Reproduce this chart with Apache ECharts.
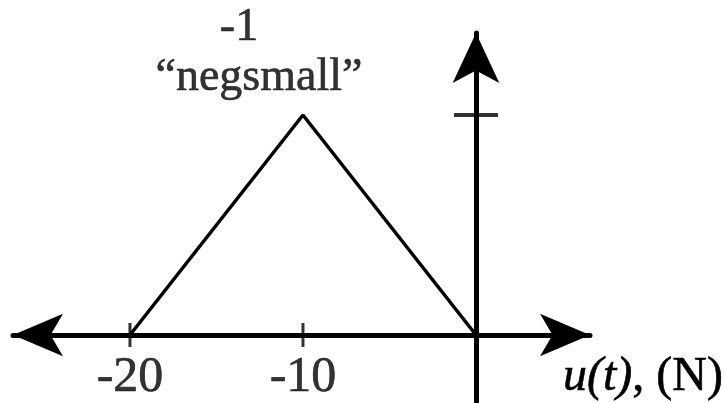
<!DOCTYPE html>
<html>
<head>
<meta charset="utf-8">
<script src="https://cdn.jsdelivr.net/npm/echarts@6/dist/echarts.min.js"></script>
<style>
  html, body { margin: 0; padding: 0; background: #fff; }
  #chart { width: 727px; height: 403px; }
</style>
</head>
<body>
<div id="chart"></div>
<script>
// Triangular membership function of the fuzzy set "negsmall" on u(t)
const memberX = [-20, -10, 0];
const memberY = [0, 1, 0];
const xTickValues = [-20, -10];
const xTickLabels = ['-20', '-10'];
const yTickValues = [1];
const setIndexLabel = '-1';
const setNameLabel = '\u201cnegsmall\u201d';
const xAxisTitle = '{it|u(t)}, (N)';

const serif = 'Liberation Serif';
const ink = '#000';
// a faint outline gives the serif glyphs a little more weight
const textWeight = { textBorderColor: ink, textBorderWidth: 0.6 };

const chart = echarts.init(document.getElementById('chart'), null, { renderer: 'canvas' });

const peakIdx = memberY.indexOf(Math.max.apply(null, memberY));

chart.setOption({
  animation: false,
  backgroundColor: '#fff',
  grid: { left: 13, right: 137, top: 33, bottom: 0, containLabel: false },
  xAxis: {
    type: 'value',
    min: -26.76,
    max: 6.59,
    axisLine: {
      onZero: true,
      symbol: ['arrow', 'arrow'],
      symbolSize: [32, 50],
      lineStyle: { color: ink, width: 5 }
    },
    axisTick: { show: false },
    axisLabel: { show: false },
    splitLine: { show: false },
    name: xAxisTitle,
    nameLocation: 'end',
    nameGap: -27,
    nameTextStyle: Object.assign({
      color: ink,
      fontFamily: serif,
      fontSize: 48,
      verticalAlign: 'top',
      align: 'left',
      padding: [18, 0, 0, 0],
      rich: {
        it: Object.assign({ fontFamily: serif, fontSize: 48, fontStyle: 'italic', color: ink }, textWeight)
      }
    }, textWeight)
  },
  yAxis: {
    type: 'value',
    min: -0.309,
    max: 1.3727,
    axisLine: {
      onZero: true,
      symbol: ['none', 'arrow'],
      symbolSize: [35, 50],
      lineStyle: { color: ink, width: 5 }
    },
    axisTick: { show: false },
    axisLabel: { show: false },
    splitLine: { show: false }
  },
  series: [
    {
      type: 'line',
      data: memberX.map((x, i) => [x, memberY[i]]),
      symbol: 'none',
      lineStyle: { color: ink, width: 3.5 },
      z: 3
    },
    {
      // tick marks on the u(t) axis with their labels
      type: 'scatter',
      data: xTickValues.map(v => [v, 0]),
      symbol: 'rect',
      symbolSize: [3, 24],
      itemStyle: { color: ink },
      label: Object.assign({
        show: true,
        position: 'bottom',
        distance: 6,
        formatter: p => xTickLabels[p.dataIndex],
        color: ink,
        fontFamily: serif,
        fontSize: 50
      }, textWeight),
      z: 4
    },
    {
      // tick mark for membership degree 1
      type: 'scatter',
      data: yTickValues.map(v => [0, v]),
      symbol: 'rect',
      symbolSize: [44, 4],
      itemStyle: { color: ink },
      z: 4
    },
    {
      // set label above the peak of the triangle
      type: 'scatter',
      data: [[memberX[peakIdx], memberY[peakIdx]]],
      symbolSize: 0,
      label: {
        show: true,
        position: 'top',
        distance: 12,
        offset: [-44, 0],
        formatter: () => '{idx|' + setIndexLabel + '}\n{name|' + setNameLabel + '}',
        rich: {
          idx: Object.assign({ fontFamily: serif, fontSize: 46, color: ink, lineHeight: 50, padding: [0, 40, 0, 0] }, textWeight),
          name: Object.assign({ fontFamily: serif, fontSize: 46, color: ink, lineHeight: 50 }, textWeight)
        }
      },
      z: 5
    }
  ]
});
</script>
</body>
</html>
